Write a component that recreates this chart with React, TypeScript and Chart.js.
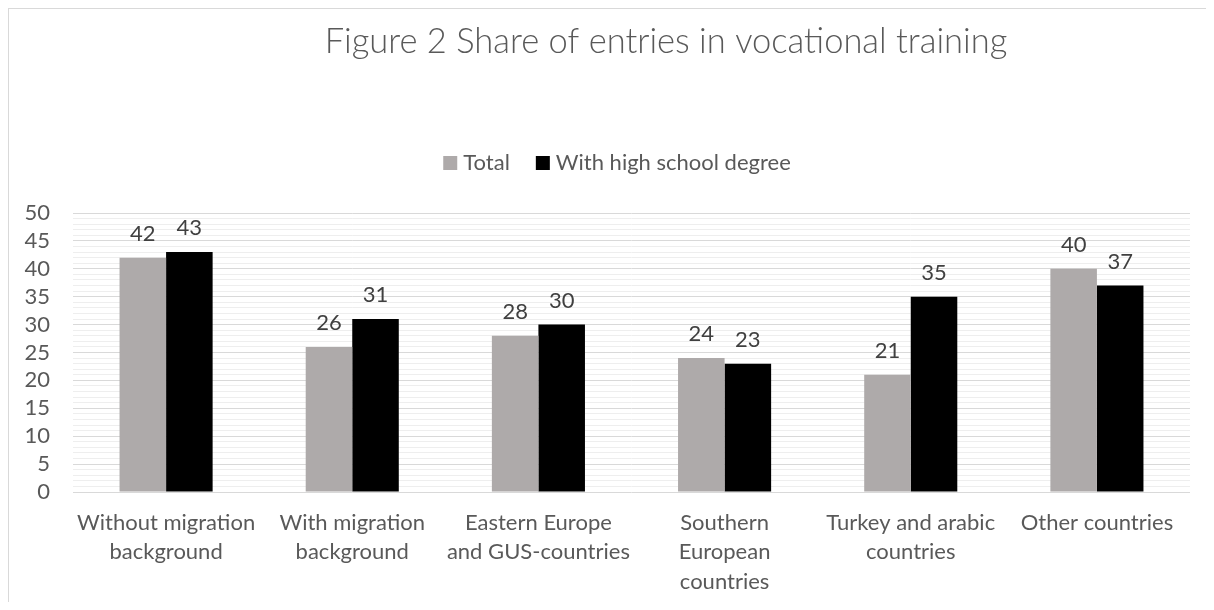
import React, { useEffect, useRef } from 'react';
import { Chart, registerables } from 'chart.js';

Chart.register(...registerables);

const TITLE = 'Figure 2 Share of entries in vocational training';
const categories: string[][] = [
  ['Without migration', 'background'],
  ['With migration', 'background'],
  ['Eastern Europe', 'and GUS-countries'],
  ['Southern', 'European', 'countries'],
  ['Turkey and arabic', 'countries'],
  ['Other countries'],
];
const seriesNames = ['Total', 'With high school degree'];
const totalValues = [42, 26, 28, 24, 21, 40];
const highSchoolValues = [43, 31, 30, 23, 35, 37];
const seriesColors = ['#AEAAAA', '#000000'];
const Y_MIN = 0;
const Y_MAX = 50;
const Y_MAJOR_STEP = 5;
const Y_MINOR_STEP = 1;

const FONT = 'Lato, "Noto Sans", sans-serif';
const TEXT_COLOR = '#595959';
const LABEL_COLOR = '#404040';

const overlayPlugin = {
  id: 'overlay',
  afterDraw(chart: any) {
    const ctx = chart.ctx as CanvasRenderingContext2D;
    ctx.save();
    // Title
    ctx.fillStyle = TEXT_COLOR;
    ctx.font = `300 34.5px ${FONT}`;
    ctx.textAlign = 'center';
    ctx.textBaseline = 'alphabetic';
    ctx.fillText(TITLE, 657, 44);

    // Legend
    ctx.font = `22px ${FONT}`;
    ctx.textAlign = 'left';
    const box = 14;
    const gap = 6;
    const itemGap = 26;
    const items = chart.data.datasets.map((ds: any) => ({
      label: ds.label as string,
      color: ds.backgroundColor as string,
      w: ctx.measureText(ds.label).width,
    }));
    const total =
      items.reduce((s: number, it: any) => s + box + gap + it.w, 0) +
      itemGap * (items.length - 1);
    let x = 608 - total / 2;
    for (const it of items) {
      ctx.fillStyle = it.color;
      ctx.fillRect(x, 147, box, box);
      ctx.fillStyle = TEXT_COLOR;
      ctx.fillText(it.label, x + box + gap, 161);
      x += box + gap + it.w + itemGap;
    }

    // Data labels
    ctx.font = `22px ${FONT}`;
    ctx.fillStyle = LABEL_COLOR;
    ctx.textAlign = 'center';
    chart.data.datasets.forEach((ds: any, i: number) => {
      const meta = chart.getDatasetMeta(i);
      meta.data.forEach((el: any, j: number) => {
        ctx.fillText(String(ds.data[j]), el.x, el.y - 17);
      });
    });
    ctx.restore();
  },
};

export default function App() {
  const canvasRef = useRef<HTMLCanvasElement | null>(null);

  useEffect(() => {
    if (!canvasRef.current) return;
    const chart = new Chart(canvasRef.current, {
      type: 'bar',
      data: {
        labels: categories,
        datasets: [
          {
            label: seriesNames[0],
            data: totalValues,
            backgroundColor: seriesColors[0],
            categoryPercentage: 0.5,
            barPercentage: 1,
          },
          {
            label: seriesNames[1],
            data: highSchoolValues,
            backgroundColor: seriesColors[1],
            categoryPercentage: 0.5,
            barPercentage: 1,
          },
        ],
      },
      options: {
        responsive: false,
        animation: false,
        layout: { padding: { top: 204, right: 16, bottom: 0, left: 0 } },
        plugins: {
          legend: { display: false },
          title: { display: false },
          tooltip: { enabled: false },
        },
        scales: {
          x: {
            grid: { display: false, drawTicks: false },
            border: { display: false },
            ticks: {
              padding: 16,
              color: TEXT_COLOR,
              font: { family: FONT, size: 22, lineHeight: 1.34 },
              maxRotation: 0,
              minRotation: 0,
              autoSkip: false,
            },
            afterFit: (s: any) => {
              s.height = 110;
            },
          },
          y: {
            min: Y_MIN,
            max: Y_MAX,
            border: { display: false },
            grid: {
              drawTicks: false,
              color: (c: any) =>
                c.tick && c.tick.value % Y_MAJOR_STEP === 0 ? '#d9d9d9' : '#eeeeee',
              lineWidth: 1,
            },
            ticks: {
              stepSize: Y_MINOR_STEP,
              autoSkip: false,
              padding: 23,
              color: TEXT_COLOR,
              font: { family: FONT, size: 22 },
              callback: (v: any) => (Number(v) % Y_MAJOR_STEP === 0 ? String(v) : ''),
            },
            afterFit: (s: any) => {
              s.width = 64;
            },
          },
        },
      },
      plugins: [overlayPlugin],
    });
    return () => chart.destroy();
  }, []);

  return (
    <div
      style={{
        borderLeft: '1px solid #d9d9d9',
        borderTop: '1px solid #d9d9d9',
        width: 1197,
        height: 593,
        background: '#fff',
      }}
    >
      <canvas ref={canvasRef} width={1197} height={593} style={{ display: 'block' }} />
    </div>
  );
}
